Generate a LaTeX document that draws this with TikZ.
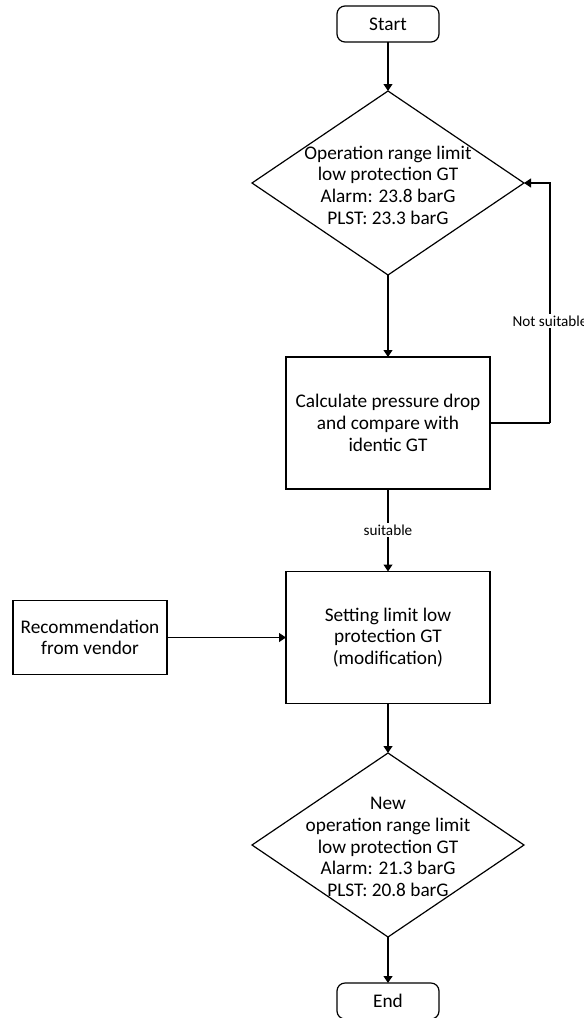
\documentclass[tikz,border=0pt]{standalone}
\usepackage{fontspec}
\setmainfont{Carlito}
\usetikzlibrary{shapes.geometric,arrows.meta}
\begin{document}
\begin{tikzpicture}[x=1pt,y=-1pt,
  line width=1.2pt,
  every node/.style={font=\fontsize{19.3}{21.7}\selectfont, inner sep=0pt, outer sep=0pt},
  term/.style={draw, rounded corners=8pt, minimum width=102pt, minimum height=36pt},
  procbox/.style={draw, minimum width=204pt, minimum height=132pt, align=center},
  recbox/.style={draw, minimum width=154pt, minimum height=74pt, align=center},
  decis/.style={draw, diamond, minimum width=272pt, minimum height=184pt},
  dtext/.style={align=center},
  lbl/.style={font=\fontsize{15.2}{17}\selectfont, fill=white, inner sep=1.5pt},
  arr/.style={-{Triangle[width=9pt,length=7pt]}}
]
\useasboundingbox (0,0) rectangle (584,1018);
\node[term] (start) at (388,24) {Start};
\node[decis] (d1) at (388,183) {};
\node[dtext] (d1t) at (388,185) {Operation range limit\\low protection GT\\Alarm: 23.8 barG\\PLST: 23.3 barG};
\node[procbox] (calc) at (388,423) {Calculate pressure drop\\and compare with\\identic GT};
\node[procbox] (set) at (388,637.5) {Setting limit low\\protection GT\\(modification)};
\node[recbox] (rec) at (90,637.5) {Recommendation\\from vendor};
\node[decis] (d2) at (388,845) {};
\node[dtext] (d2t) at (388,847) {New\\operation range limit\\low protection GT\\Alarm: 21.3 barG\\PLST: 20.8 barG};
\node[term] (end) at (388,1001) {End};
\coordinate (fb) at (550,423);

\draw[arr] (start.south) -- (d1.north);
\draw[arr] (d1.south) -- (calc.north);
\draw (calc.east) -- (fb);
\draw[arr] (fb) |- (d1.east);
\node[lbl] (ns) at (550,321) {Not suitable};
\draw[arr] (calc.south) -- node[lbl] (su) {suitable} (set.north);
\draw[arr] (rec.east) -- (set.west);
\draw[arr] (set.south) -- (d2.north);
\draw[arr] (d2.south) -- (end.north);
\end{tikzpicture}
\end{document}
